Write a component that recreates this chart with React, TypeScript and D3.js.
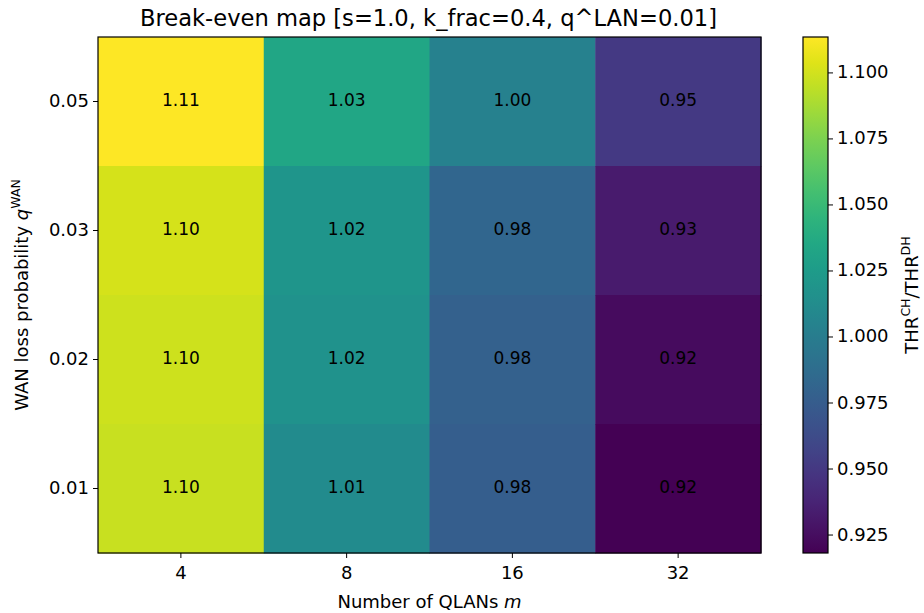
import React from "react";
import * as d3 from "d3";

const xCats = ["4", "8", "16", "32"];
const yCats = ["0.05", "0.03", "0.02", "0.01"];
const values: number[][] = [
  [1.1136, 1.034, 1.003, 0.951],
  [1.101, 1.02, 0.982, 0.932],
  [1.099, 1.017, 0.978, 0.924],
  [1.097, 1.012, 0.976, 0.9182],
];
const cbTicks = [0.925, 0.95, 0.975, 1.0, 1.025, 1.05, 1.075, 1.1];

const W = 924, H = 613;
const L = 98, R = 761, T = 37, B = 553;
const CBL = 803, CBR = 828;

export default function App() {
  const flat = values.flat();
  const vmin = d3.min(flat)!, vmax = d3.max(flat)!;
  const color = d3.scaleSequential(d3.interpolateViridis).domain([vmin, vmax]);
  const x = d3.scaleBand().domain(xCats).range([L, R]);
  const y = d3.scaleBand().domain(yCats).range([T, B]);
  const cy = d3.scaleLinear().domain([vmin, vmax]).range([B, T]);
  const font = "'DejaVu Sans', sans-serif";
  const stops = d3.range(0, 1.0001, 0.05);
  const fs = 18;
  return (
    <svg width={W} height={H} style={{ position: "absolute", left: 0, top: 0, background: "#fff" }} fontFamily={font}>
      <defs>
        <linearGradient id="cb" x1="0" y1="1" x2="0" y2="0">
          {stops.map((s) => (
            <stop key={s} offset={s} stopColor={d3.interpolateViridis(s)} />
          ))}
        </linearGradient>
      </defs>
      <text x={(L + R) / 2 - 1} y={26} textAnchor="middle" fontSize={22.6} fill="#000">
        Break-even map [s=1.0, k_frac=0.4, q^LAN=0.01]
      </text>
      {values.map((row, i) =>
        row.map((v, j) => (
          <g key={`${i}-${j}`}>
            <rect x={x(xCats[j])} y={y(yCats[i])} width={x.bandwidth() + 0.5} height={y.bandwidth() + 0.5} fill={color(v)} />
            <text x={x(xCats[j])! + x.bandwidth() / 2} y={y(yCats[i])! + y.bandwidth() / 2 - 1.5} textAnchor="middle" dominantBaseline="central" fontSize={17} fill="#000">
              {v.toFixed(2)}
            </text>
          </g>
        ))
      )}
      <rect x={L} y={T} width={R - L} height={B - T} fill="none" stroke="#000" strokeWidth={1.2} />
      {xCats.map((c) => {
        const cx = x(c)! + x.bandwidth() / 2;
        return (
          <g key={c}>
            <line x1={cx} x2={cx} y1={B} y2={B + 5} stroke="#000" />
            <text x={cx} y={B + 26} textAnchor="middle" fontSize={fs} fill="#000">{c}</text>
          </g>
        );
      })}
      {yCats.map((c) => {
        const yy = y(c)! + y.bandwidth() / 2;
        return (
          <g key={c}>
            <line x1={L - 5} x2={L} y1={yy} y2={yy} stroke="#000" />
            <text x={L - 9} y={yy - 1} textAnchor="end" dominantBaseline="central" fontSize={fs} fill="#000">{c}</text>
          </g>
        );
      })}
      <text x={(L + R) / 2} y={608} textAnchor="middle" fontSize={fs} fill="#000">
        Number of QLANs <tspan fontStyle="italic">m</tspan>
      </text>
      <text transform={`translate(28,${(T + B) / 2}) rotate(-90)`} textAnchor="middle" fontSize={fs} fill="#000">
        WAN loss probability <tspan fontStyle="italic">q</tspan>
        <tspan dy={-8} fontSize={12.5}>WAN</tspan>
      </text>
      <rect x={CBL} y={T} width={CBR - CBL} height={B - T} fill="url(#cb)" stroke="#000" strokeWidth={1.2} />
      {cbTicks.map((t) => (
        <g key={t}>
          <line x1={CBR} x2={CBR + 5} y1={cy(t)} y2={cy(t)} stroke="#000" />
          <text x={CBR + 9} y={cy(t) - 1} dominantBaseline="central" fontSize={fs} fill="#000">{t.toFixed(3)}</text>
        </g>
      ))}
      <text transform={`translate(918,${(T + B) / 2}) rotate(-90)`} textAnchor="middle" fontSize={fs} fill="#000">
        THR<tspan dy={-8} fontSize={12.5}>CH</tspan><tspan dy={8}>/THR</tspan><tspan dy={-8} fontSize={12.5}>DH</tspan>
      </text>
    </svg>
  );
}
